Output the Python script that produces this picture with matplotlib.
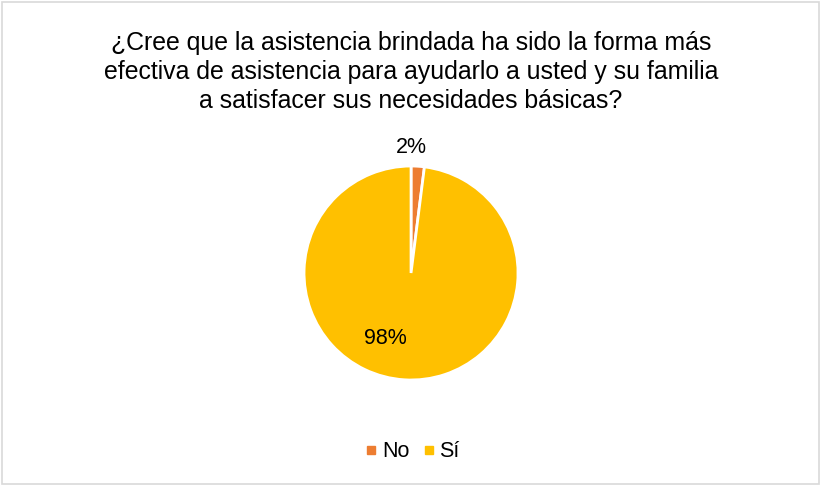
import matplotlib.pyplot as plt
from matplotlib.patches import Rectangle
from matplotlib.lines import Line2D

categories = ['No', 'Sí']
values = [2, 98]
colors = ['#ED7D31', '#FFC000']
title = ('¿Cree que la asistencia brindada ha sido la forma más\n'
         'efectiva de asistencia para ayudarlo a usted y su familia\n'
         'a satisfacer sus necesidades básicas?')

plt.rcParams['font.family'] = ['Liberation Sans', 'DejaVu Sans']

fig = plt.figure(figsize=(8.21, 4.86), dpi=100)
fig.patches.append(Rectangle((0.003, 0.004), 0.994, 0.991, transform=fig.transFigure,
                             fill=False, edgecolor='#D9D9D9', linewidth=1.2))

fig.text(0.5006, 0.852, title, ha='center', va='center', fontsize=17.9,
         color='#000000', linespacing=1.25)

ax = fig.add_axes([0.3703, 0.2181, 0.2607, 0.4403])
wedges, texts, autotexts = ax.pie(values, colors=colors, startangle=90, counterclock=False,
                                  autopct='%1.0f%%', radius=1,
                                  wedgeprops=dict(edgecolor='white', linewidth=2),
                                  textprops=dict(fontsize=15.5, color='#000000'))
autotexts[0].set_position((0.0, 1.17))
autotexts[1].set_position((-0.24, -0.61))
ax.set_xlim(-1, 1)
ax.set_ylim(-1, 1)
ax.set_aspect('equal')
ax.axis('off')

handles = [Line2D([0], [0], marker='s', linestyle='', markersize=5.5,
                  markerfacecolor=c, markeredgecolor=c) for c in colors]
fig.legend(handles, categories, loc='center', bbox_to_anchor=(0.5006, 0.07),
           ncol=2, frameon=False, fontsize=15.5, handletextpad=0.1, columnspacing=0.5,
           handlelength=0.8)

fig.savefig('out.png', dpi=100)
